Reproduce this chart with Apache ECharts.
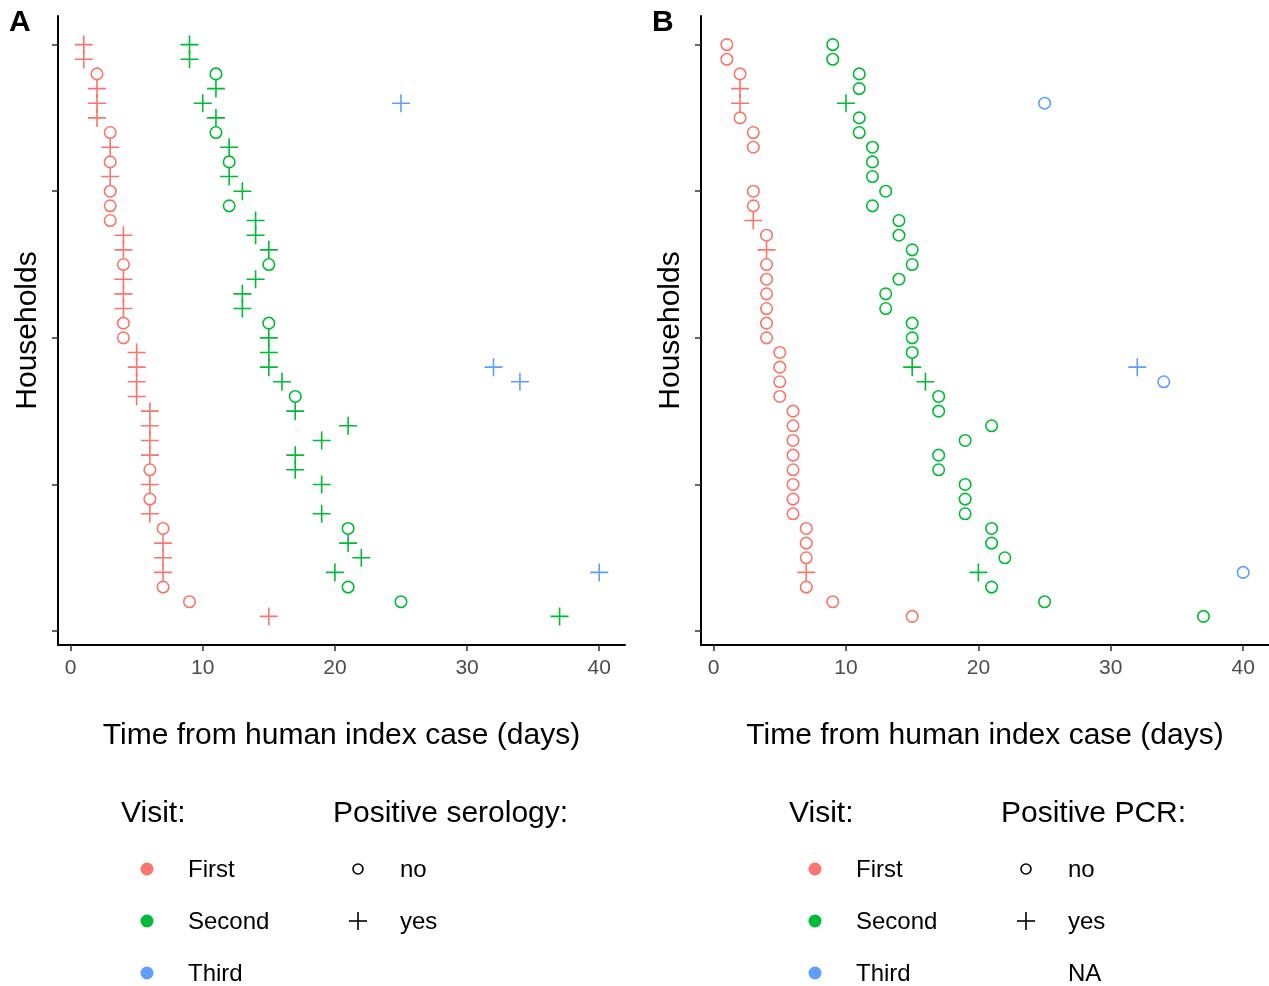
<!DOCTYPE html>
<html>
<head>
<meta charset="utf-8">
<title>Households</title>
<script src="https://cdn.jsdelivr.net/npm/echarts@6/dist/echarts.min.js"></script>
<style>
html, body { margin: 0; padding: 0; background: #fff; }
#main { width: 1269px; height: 986px; }
</style>
</head>
<body>
<div id="main"></div>
<script>
// households, listed from the top row (40) down to the bottom row (1)
var households = [40, 39, 38, 37, 36, 35, 34, 33, 32, 31,
                  30, 29, 28, 27, 26, 25, 24, 23, 22, 21,
                  20, 19, 18, 17, 16, 15, 14, 13, 12, 11,
                  10, 9, 8, 7, 6, 5, 4, 3, 2, 1];

// days since the human index case, per visit
var firstDay = [1, 1, 2, 2, 2, 2, 3, 3, 3, 3,
                3, 3, 3, 4, 4, 4, 4, 4, 4, 4,
                4, 5, 5, 5, 5, 6, 6, 6, 6, 6,
                6, 6, 6, 7, 7, 7, 7, 7, 9, 15];
var secondDay = [9, 9, 11, 11, 10, 11, 11, 12, 12, 12,
                 13, 12, 14, 14, 15, 15, 14, 13, 13, 15,
                 15, 15, 15, 16, 17, 17, 21, 19, 17, 17,
                 19, 19, 19, 21, 21, 22, 20, 21, 25, 37];
var thirdHouse = [36, 18, 17, 4];
var thirdDay = [25, 32, 34, 40];

// results: 'y' = yes, 'n' = no, null = NA
var firstSerology = ['y','y','n','y','y','y','n','y','n','y',
                     'n','n','n','y','y','n','y','y','y','n',
                     'n','y','y','y','y','y','y','y','y','n',
                     'y','n','y','n','y','y','y','n','n','y'];
var secondSerology = ['y','y','n','y','y','y','n','y','n','y',
                      'y','n','y','y','y','n','y','y','y','n',
                      'y','y','y','y','n','y','y','y','y','y',
                      'y',null,'y','n','y','y','y','n','n','y'];
var thirdSerology = ['y', 'y', 'y', 'y'];

var firstPcr = ['n','n','n','y','y','n','n','n',null,null,
                'n','n','y','n','y','n','n','n','n','n',
                'n','n','n','n','n','n','n','n','n','n',
                'n','n','n','n','n','n','y','n','n','n'];
var secondPcr = ['n','n','n','n','y','n','n','n','n','n',
                 'n','n','n','n','n','n','n','n','n','n',
                 'n','n','y','y','n','n','n','n','n','n',
                 'n','n','n','n','n','n','y','n','n','n'];
var thirdPcr = ['n', 'y', 'n', 'n'];

var visitNames = ['First', 'Second', 'Third'];
var visitColors = ['#F8766D', '#00BA38', '#619CFF'];

var FONT = 'Liberation Sans, Arial, sans-serif';
var PLUS = 'path://M10,0L10,20M0,10L20,10';

function makeSeries(grid, name, color, house, day, result) {
    var data = [];
    for (var i = 0; i < house.length; i++) {
        if (result[i] === null) continue;
        data.push([day[i], house[i], result[i]]);
    }
    return {
        type: 'scatter',
        name: name,
        xAxisIndex: grid,
        yAxisIndex: grid,
        data: data,
        symbol: function (v) { return v[2] === 'y' ? PLUS : 'circle'; },
        symbolSize: function (v) { return v[2] === 'y' ? 18 : 11.5; },
        itemStyle: { color: 'rgba(0,0,0,0)', borderColor: color, borderWidth: 1.6, opacity: 1 },
        emphasis: { disabled: true },
        animation: false
    };
}

function xAxisFor(grid) {
    return {
        gridIndex: grid, type: 'value', min: -0.95, max: 41.95,
        axisLine: { show: true, onZero: false, lineStyle: { color: '#000', width: 2 } },
        axisTick: { show: true, length: 6, customValues: [0, 10, 20, 30, 40], lineStyle: { color: '#333', width: 1.5 } },
        axisLabel: { customValues: [0, 10, 20, 30, 40], fontSize: 21, color: '#4d4d4d', margin: 13, fontFamily: FONT },
        splitLine: { show: false },
        name: 'Time from human index case (days)', nameLocation: 'middle', nameGap: 76,
        nameTextStyle: { fontSize: 30, color: '#000', fontFamily: FONT }
    };
}

function yAxisFor(grid) {
    return {
        gridIndex: grid, type: 'value', min: -0.95, max: 41.95,
        axisLine: { show: true, onZero: false, lineStyle: { color: '#000', width: 2 } },
        axisTick: { show: true, length: 6, customValues: [0, 10, 20, 30, 40], lineStyle: { color: '#333', width: 1.5 } },
        axisLabel: { show: false },
        splitLine: { show: false },
        name: 'Households', nameLocation: 'middle', nameGap: 15, nameRotate: 90,
        nameTextStyle: { fontSize: 30, color: '#000', fontFamily: FONT }
    };
}

function legendFor(x0, resultTitle, hasNA) {
    var items = [];
    items.push({ type: 'text', left: x0, top: 799, style: { text: 'Visit:', font: '30px ' + FONT, fill: '#000' } });
    items.push({ type: 'text', left: x0 + 212, top: 799, style: { text: resultTitle, font: '30px ' + FONT, fill: '#000' } });
    var rows = [869, 921, 973];
    for (var i = 0; i < 3; i++) {
        items.push({ type: 'circle', shape: { cx: x0 + 26, cy: rows[i], r: 6.5 }, style: { fill: visitColors[i] } });
        items.push({ type: 'text', x: x0 + 67, y: rows[i] + 1, style: { text: visitNames[i], font: '24px ' + FONT, fill: '#000', verticalAlign: 'middle' } });
    }
    items.push({ type: 'circle', shape: { cx: x0 + 237, cy: rows[0], r: 5 }, style: { fill: 'none', stroke: '#000', lineWidth: 1.6 } });
    items.push({ type: 'text', x: x0 + 279, y: rows[0] + 1, style: { text: 'no', font: '24px ' + FONT, fill: '#000', verticalAlign: 'middle' } });
    items.push({ type: 'polyline', shape: { points: [[x0 + 228, rows[1]], [x0 + 246, rows[1]]] }, style: { stroke: '#000', lineWidth: 1.6 } });
    items.push({ type: 'polyline', shape: { points: [[x0 + 237, rows[1] - 9], [x0 + 237, rows[1] + 9]] }, style: { stroke: '#000', lineWidth: 1.6 } });
    items.push({ type: 'text', x: x0 + 279, y: rows[1] + 1, style: { text: 'yes', font: '24px ' + FONT, fill: '#000', verticalAlign: 'middle' } });
    if (hasNA) {
        items.push({ type: 'text', x: x0 + 279, y: rows[2] + 1, style: { text: 'NA', font: '24px ' + FONT, fill: '#000', verticalAlign: 'middle' } });
    }
    return items;
}

var myChart = echarts.init(document.getElementById('main'));
var option = {
    backgroundColor: '#fff',
    animation: false,
    grid: [
        { left: 58, top: 16, width: 567, height: 629 },
        { left: 701, top: 16, width: 568, height: 629 }
    ],
    xAxis: [xAxisFor(0), xAxisFor(1)],
    yAxis: [yAxisFor(0), yAxisFor(1)],
    series: [
        makeSeries(0, 'First', visitColors[0], households, firstDay, firstSerology),
        makeSeries(0, 'Second', visitColors[1], households, secondDay, secondSerology),
        makeSeries(0, 'Third', visitColors[2], thirdHouse, thirdDay, thirdSerology),
        makeSeries(1, 'First', visitColors[0], households, firstDay, firstPcr),
        makeSeries(1, 'Second', visitColors[1], households, secondDay, secondPcr),
        makeSeries(1, 'Third', visitColors[2], thirdHouse, thirdDay, thirdPcr)
    ],
    graphic: [
        { type: 'text', left: 9, top: 8, style: { text: 'A', font: 'bold 30px ' + FONT, fill: '#000' } },
        { type: 'text', left: 652, top: 8, style: { text: 'B', font: 'bold 30px ' + FONT, fill: '#000' } }
    ].concat(legendFor(121, 'Positive serology:', false), legendFor(789, 'Positive PCR:', true))
};
myChart.setOption(option);
</script>
</body>
</html>
